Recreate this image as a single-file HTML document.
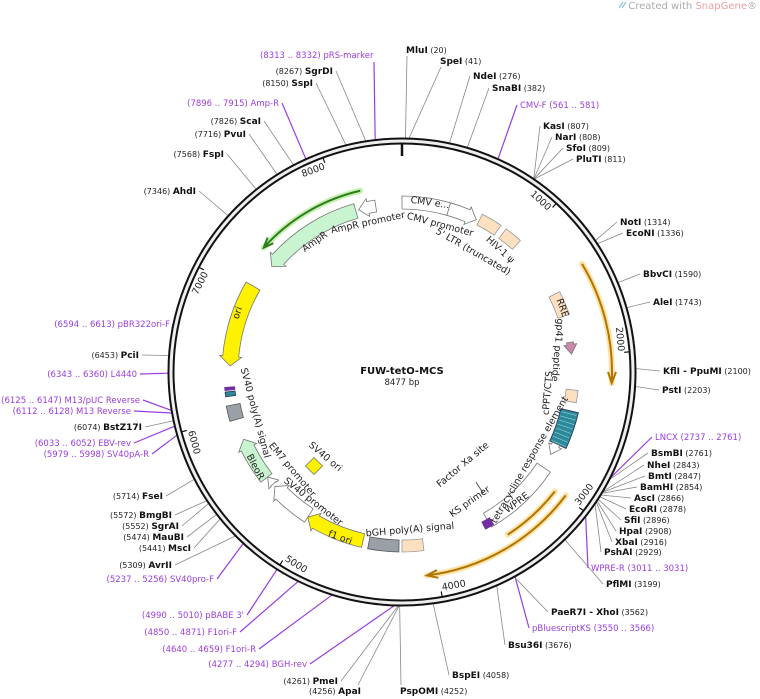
<!DOCTYPE html>
<html><head><meta charset="utf-8"><style>
body{margin:0;background:#fff;}
svg{display:block;font-family:"DejaVu Sans","Liberation Sans",sans-serif;}
.n{font-size:8px;fill:#222}
.b{font-size:9px;font-weight:bold;fill:#111}
.p{font-size:8.5px;fill:#9a3de0}
.in{font-size:9.5px;fill:#222}
</style></head><body>
<svg id="s" width="760" height="699" viewBox="0 0 760 699" xmlns="http://www.w3.org/2000/svg">
<text x="757" y="9" text-anchor="end" font-size="10" fill="#aaa">Created with <tspan fill="#f0a0a0">SnapGene</tspan>®</text>
<path d="M619 8 L623 2 M622 8 L626 2" stroke="#9cd" stroke-width="1.5"/>
<g id="lines"></g>
<circle cx="402" cy="372" r="231" fill="none" stroke="#eee" stroke-width="3"/>
<circle cx="402" cy="372" r="233.5" fill="none" stroke="#111" stroke-width="2"/>
<circle cx="402" cy="372" r="228.5" fill="none" stroke="#111" stroke-width="2"/>
<line x1="402" y1="143" x2="402" y2="156" stroke="#111" stroke-width="2.5"/>
<g id="f"></g>
<text x="402" y="374" text-anchor="middle" font-size="10" font-weight="bold" fill="#111">FUW-tetO-MCS</text>
<text x="402" y="385" text-anchor="middle" font-size="8.5" fill="#222">8477 bp</text>
<g id="lab"></g>
</svg>
<script>
var CX=402,CY=372,N=8477,NS="http://www.w3.org/2000/svg";
function P(a,r){var t=a*Math.PI/180;return [CX+r*Math.sin(t),CY-r*Math.cos(t)];}
function el(tag,at,par,txt){var e=document.createElementNS(NS,tag);for(var k in at)e.setAttribute(k,at[k]);if(txt!=null)e.textContent=txt;document.getElementById(par).appendChild(e);return e;}
function band(a1,a2,r1,r2,fill,stroke,head){
 var h=head?6:0, b1=a1,b2=a2;
 if(head==1)b2=a2-h*180/Math.PI/((r1+r2)/2)*1.6; if(head==-1)b1=a1+h*180/Math.PI/((r1+r2)/2)*1.6;
 var lg=(b2-b1)>180?1:0,rm=(r1+r2)/2,d="";
 var p=P(b1,r2);d+="M"+p;
 p=P(b2,r2);d+=" A"+r2+" "+r2+" 0 "+lg+" 1 "+p;
 if(head==1){d+=" L"+P(b2,r2+3)+" L"+P(a2,rm)+" L"+P(b2,r1-3);}
 p=P(b2,r1);d+=" L"+p;
 p=P(b1,r1);d+=" A"+r1+" "+r1+" 0 "+lg+" 0 "+p;
 if(head==-1){d+=" L"+P(b1,r1-3)+" L"+P(a1,rm)+" L"+P(b1,r2+3);}
 d+="Z";el("path",{d:d,fill:fill,stroke:stroke,"stroke-width":0.8},"f");
}
function arcl(a1,a2,r,col,w,glow,head){
 var p1=P(a1,r),p2=P(a2,r),d="M"+p1+" A"+r+" "+r+" 0 0 1 "+p2;
 if(glow)el("path",{d:d,fill:"none",stroke:glow,"stroke-width":w+4,"stroke-linecap":"round"},"f");
 el("path",{d:d,fill:"none",stroke:col,"stroke-width":w},"f");
 if(head){var a=head==1?a2:a1,s=head,q=P(a,r),q1=P(a-s*3,r+4),q2=P(a-s*3,r-4);
  el("path",{d:"M"+q1+" L"+q+" L"+q2,fill:"none",stroke:col,"stroke-width":w},"f");}
}
function tp(x,y,s,ro){el("text",{x:x,y:y,"text-anchor":"middle","dominant-baseline":"middle",class:"in",transform:"rotate("+ro+" "+x+" "+y+")"},"f",s);}
function tt(a,r,s,ro){var p=P(a,r);tp(p[0],p[1],s,ro);}
arcl(-48,-13,186,"#2e7d1e",2,"#c8f0b0",-1);
band(-51,-16,160,175,"#c8f5cf","#777",-1);
band(-15,-9,162,174,"#fff","#777",-1);
band(0,16,163,176,"#fff","#777",0);
band(16,26,163,176,"#fff","#777",1);
band(27,34,165,177,"#fde0c0","#999",0);
band(36,42,165,177,"#fde0c0","#999",0);
arcl(59,93,210,"#b07400",2,"#fde3a8",1);
band(63,71,165,177,"#fde0c0","#999",0);
band(80,84,167,174,"#cc88aa","#777",1);
band(96,100,165,177,"#fde0c0","#999",0);
band(103,115,163,181,"#2a8a9a","#235",0);
for(var g=104;g<115;g+=1.5){var q1=P(g,164),q2=P(g,180);el("line",{x1:q1[0],y1:q1[1],x2:q2[0],y2:q2[1],stroke:"#bde",  "stroke-width":0.5},"f");}
band(115,119,166,174,"#fff","#777",1);
band(124,150,163,179,"#fff","#777",0);
band(149,152,170,178,"#7030a0","#7030a0",0);
arcl(127,173,205,"#b07400",2,"#fde3a8",1);
arcl(128,147,194,"#b07400",2,"#fde3a8",0);
band(173,180,168,180,"#fde0c0","#999",0);
band(181,191,168,180,"#9aa0a8","#555",0);
band(193,213,166,180,"#fff200","#777",1);
band(213,228,163,179,"#fff","#777",1);
band(229,232,167,174,"#fff","#777",1);
band(232,247,165,179,"#c8f5cf","#777",1);
band(254,259,165,179,"#9aa0a8","#555",0);
band(262,263.5,168,178,"#2a8a9a","#235",0);
band(264,265,168,178,"#7030a0","#7030a0",0);
band(272,300,164,180,"#fff200","#777",-1);
el("rect",{x:308,y:460,width:12,height:12,fill:"#fff200",stroke:"#777","stroke-width":0.8,transform:"rotate(45 314 466)"},"f");
el("line",{x1:483,y1:493,x2:476,y2:482,stroke:"#555"},"f");
tp(315,242,"AmpR",-35);tp(368,223,"AmpR promoter",-12);tp(430,203,"CMV e...",8);tp(440,225,"CMV promoter",15);
tp(473,252,"5' LTR (truncated)",30);tp(500,250,"HIV-1 ψ",42);tp(562,308,"RRE",70);tp(557,350,"gp41 peptide",95);
tp(548,393,"cPPT/CTS",-85);tp(530,460,"tetracycline response element",-60);tp(517,503,"WPRE",-37);
tp(470,502,"KS primer",-35);tp(463,465,"Factor Xa site",-40);tp(410,530,"bGH poly(A) signal",-5);tp(340,538,"f1 ori",20);
tp(313,502,"SV40 promoter",38);tp(292,470,"EM7 promoter",50);tp(255,467,"BleoR",62);tp(255,413,"SV40 poly(A) signal",75);
tp(325,457,"SV40 ori",40);tp(238,313,"ori",-70);
for(var k=1;k<=8;k++){var a=k*1000/N*360;var p1=P(a,228),p2=P(a,223);el("line",{x1:p1[0],y1:p1[1],x2:p2[0],y2:p2[1],stroke:"#111","stroke-width":1.2},"f");
 var ro=(a>90&&a<270)?a-180:a;tt(a-3.5,220,String(k*1000),ro);}
var L=[
[8322,260,58,"s","(8313 .. 8332)  pRS-marker","",1],
[8267,333,74,"e","(8267)  ","SgrDI",0],[8150,313,86,"e","(8150)  ","SspI",0],
[7905,279,106,"e","(7896 .. 7915)  Amp-R","",1],[7826,261,124,"e","(7826)  ","ScaI",0],
[7716,246,137,"e","(7716)  ","PvuI",0],[7568,224,157,"e","(7568)  ","FspI",0],[7346,196,194,"e","(7346)  ","AhdI",0],
[6603,170,327,"e","(6594 .. 6613)  pBR322ori-F","",1],[6453,139,358,"e","(6453)  ","PciI",0],
[6351,137,377,"e","(6343 .. 6360)  L4440","",1],[6136,140,403,"e","(6125 .. 6147)  M13/pUC Reverse","",1],
[6120,131,414,"e","(6112 .. 6128)  M13 Reverse","",1],[6074,142,430,"e","(6074)  ","BstZ17I",0],
[6042,131,446,"e","(6033 .. 6052)  EBV-rev","",1],[5988,149,457,"e","(5979 .. 5998)  SV40pA-R","",1],
[5714,163,499,"e","(5714)  ","FseI",0],[5572,172,518,"e","(5572)  ","BmgBI",0],[5552,179,529,"e","(5552)  ","SgrAI",0],
[5474,184,540,"e","(5474)  ","MauBI",0],[5441,191,551,"e","(5441)  ","MscI",0],[5309,172,568,"e","(5309)  ","AvrII",0],
[5246,214,582,"e","(5237 .. 5256)  SV40pro-F","",1],[5000,244,618,"e","(4990 .. 5010)  pBABE 3'","",1],
[4860,237,635,"e","(4850 .. 4871)  F1ori-F","",1],[4650,256,652,"e","(4640 .. 4659)  F1ori-R","",1],
[4285,307,667,"e","(4277 .. 4294)  BGH-rev","",1],[4261,338,684,"e","(4261)  ","PmeI",0],[4256,361,694,"e","(4256)  ","ApaI",0],
[4252,400,694,"s","","PspOMI","  (4252)",0],[4058,452,678,"s","","BspEI","  (4058)",0],[3676,508,648,"s","","Bsu36I","  (3676)",0],
[3558,532,631,"s","pBluescriptKS  (3550 .. 3566)","",1],[3562,551,615,"s","","PaeR7I  -  XhoI","  (3562)",0],
[3199,606,587,"s","","PflMI","  (3199)",0],[3021,591,571,"s","WPRE-R  (3011 .. 3031)","",1],
[2929,604,555,"s","","PshAI","  (2929)",0],[2916,615,545,"s","","XbaI","  (2916)",0],[2908,619,534,"s","","HpaI","  (2908)",0],
[2896,624,523,"s","","SfiI","  (2896)",0],[2878,629,512,"s","","EcoRI","  (2878)",0],[2866,634,501,"s","","AscI","  (2866)",0],
[2854,640,490,"s","","BamHI","  (2854)",0],[2847,648,479,"s","","BmtI","  (2847)",0],[2843,647,468,"s","","NheI","  (2843)",0],
[2761,651,456,"s","","BsmBI","  (2761)",0],[2749,655,440,"s","LNCX  (2737 .. 2761)","",1],
[2203,662,393,"s","","PstI","  (2203)",0],[2100,663,374,"s","","KflI  -  PpuMI","  (2100)",0],
[1743,653,305,"s","","AleI","  (1743)",0],[1590,643,277,"s","","BbvCI","  (1590)",0],
[1336,626,236,"s","","EcoNI","  (1336)",0],[1314,620,225,"s","","NotI","  (1314)",0],
[811,576,162,"s","","PluTI","  (811)",0],[809,566,151,"s","","SfoI","  (809)",0],[808,555,140,"s","","NarI","  (808)",0],
[807,543,129,"s","","KasI","  (807)",0],[571,520,108,"s","CMV-F  (561 .. 581)","",1],
[382,492,91,"s","","SnaBI","  (382)",0],[276,473,79,"s","","NdeI","  (276)",0],[41,440,64,"s","","SpeI","  (41)",0],[20,406,53,"s","","MluI","  (20)",0]];
L.forEach(function(l){
 var purple=l[l.length-1]==1, post=l.length==8?l[6]:"";
 var a=l[0]/N*360,p=P(a,234);
 var t=el("text",{x:l[1],y:l[2],"text-anchor":l[3]=="s"?"start":"end"},"lab");
 if(purple){t.setAttribute("class","p");t.textContent=l[4];}
 else{
  if(l[4]){var s1=document.createElementNS(NS,"tspan");s1.setAttribute("class","n");s1.textContent=l[4];t.appendChild(s1);}
  var s2=document.createElementNS(NS,"tspan");s2.setAttribute("class","b");s2.textContent=l[5];t.appendChild(s2);
  if(post){var s3=document.createElementNS(NS,"tspan");s3.setAttribute("class","n");s3.textContent=post;t.appendChild(s3);}
 }
 var ex=l[3]=="s"?l[1]-3:l[1]+3, ey=l[2]-3;
 if(l[0]<60){ex=l[1]+1;ey=l[2]+3;}
 if(l[0]==8322){ex=374;ey=l[2]+4;}
 if(l[0]==4252){ex=l[1]+1;ey=l[2]-9;}
 if(l[0]==4256){ex=l[1]-3;ey=l[2]-9;}
 el("line",{x1:p[0],y1:p[1],x2:ex,y2:ey,stroke:purple?"#9a3de0":"#888","stroke-width":purple?1.2:0.8},"lines");
});
</script>
</body></html>
